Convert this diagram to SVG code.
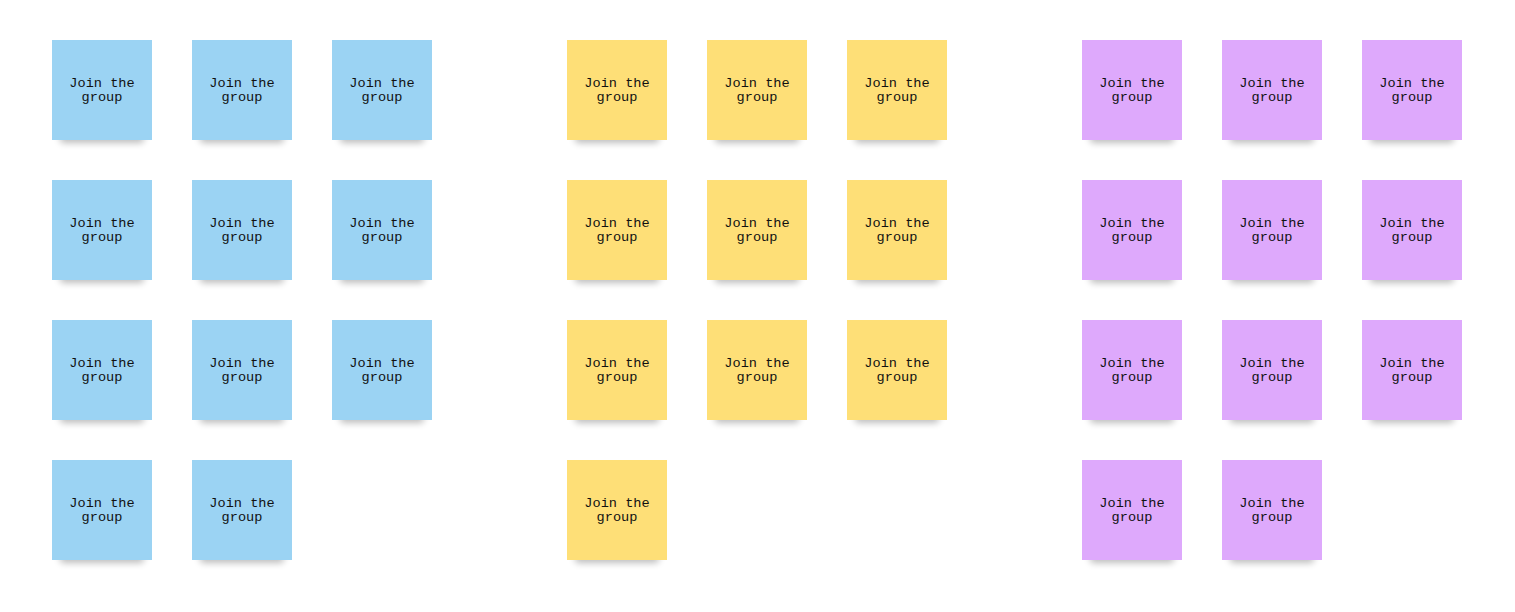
<svg xmlns="http://www.w3.org/2000/svg" xmlns:xlink="http://www.w3.org/1999/xlink" width="1515" height="612" viewBox="0 0 1515 612">
<style>
.t{font-family:"Liberation Mono","DejaVu Sans Mono",monospace;font-size:13.6px;fill:#111;text-anchor:middle}
.b{fill:#9bd3f3}.y{fill:#fedf77}.p{fill:#dea9fc}
.s{fill:#000;opacity:0.26;filter:url(#blur)}
</style>
<defs>
<filter id="blur" x="-30%" y="-100%" width="160%" height="300%"><feGaussianBlur stdDeviation="3.5"/></filter>
<g id="sh"><rect class="s" x="8" y="92" width="84" height="11" rx="4"/></g>
<g id="tx"><text class="t" x="50" y="47">Join the</text><text class="t" x="50" y="61">group</text></g>
</defs>
<rect width="1515" height="612" fill="#fff"/>
<g id="blue">
<g id="b1" transform="translate(52,40)"><use xlink:href="#sh"/><rect class="b" width="100" height="100"/><use xlink:href="#tx"/></g>
<g id="b2" transform="translate(192,40)"><use xlink:href="#sh"/><rect class="b" width="100" height="100"/><use xlink:href="#tx"/></g>
<g id="b3" transform="translate(332,40)"><use xlink:href="#sh"/><rect class="b" width="100" height="100"/><use xlink:href="#tx"/></g>
<g id="b4" transform="translate(52,180)"><use xlink:href="#sh"/><rect class="b" width="100" height="100"/><use xlink:href="#tx"/></g>
<g id="b5" transform="translate(192,180)"><use xlink:href="#sh"/><rect class="b" width="100" height="100"/><use xlink:href="#tx"/></g>
<g id="b6" transform="translate(332,180)"><use xlink:href="#sh"/><rect class="b" width="100" height="100"/><use xlink:href="#tx"/></g>
<g id="b7" transform="translate(52,320)"><use xlink:href="#sh"/><rect class="b" width="100" height="100"/><use xlink:href="#tx"/></g>
<g id="b8" transform="translate(192,320)"><use xlink:href="#sh"/><rect class="b" width="100" height="100"/><use xlink:href="#tx"/></g>
<g id="b9" transform="translate(332,320)"><use xlink:href="#sh"/><rect class="b" width="100" height="100"/><use xlink:href="#tx"/></g>
<g id="b10" transform="translate(52,460)"><use xlink:href="#sh"/><rect class="b" width="100" height="100"/><use xlink:href="#tx"/></g>
<g id="b11" transform="translate(192,460)"><use xlink:href="#sh"/><rect class="b" width="100" height="100"/><use xlink:href="#tx"/></g>
</g>
<g id="yellow">
<g id="y1" transform="translate(567,40)"><use xlink:href="#sh"/><rect class="y" width="100" height="100"/><use xlink:href="#tx"/></g>
<g id="y2" transform="translate(707,40)"><use xlink:href="#sh"/><rect class="y" width="100" height="100"/><use xlink:href="#tx"/></g>
<g id="y3" transform="translate(847,40)"><use xlink:href="#sh"/><rect class="y" width="100" height="100"/><use xlink:href="#tx"/></g>
<g id="y4" transform="translate(567,180)"><use xlink:href="#sh"/><rect class="y" width="100" height="100"/><use xlink:href="#tx"/></g>
<g id="y5" transform="translate(707,180)"><use xlink:href="#sh"/><rect class="y" width="100" height="100"/><use xlink:href="#tx"/></g>
<g id="y6" transform="translate(847,180)"><use xlink:href="#sh"/><rect class="y" width="100" height="100"/><use xlink:href="#tx"/></g>
<g id="y7" transform="translate(567,320)"><use xlink:href="#sh"/><rect class="y" width="100" height="100"/><use xlink:href="#tx"/></g>
<g id="y8" transform="translate(707,320)"><use xlink:href="#sh"/><rect class="y" width="100" height="100"/><use xlink:href="#tx"/></g>
<g id="y9" transform="translate(847,320)"><use xlink:href="#sh"/><rect class="y" width="100" height="100"/><use xlink:href="#tx"/></g>
<g id="y10" transform="translate(567,460)"><use xlink:href="#sh"/><rect class="y" width="100" height="100"/><use xlink:href="#tx"/></g>
</g>
<g id="purple">
<g id="p1" transform="translate(1082,40)"><use xlink:href="#sh"/><rect class="p" width="100" height="100"/><use xlink:href="#tx"/></g>
<g id="p2" transform="translate(1222,40)"><use xlink:href="#sh"/><rect class="p" width="100" height="100"/><use xlink:href="#tx"/></g>
<g id="p3" transform="translate(1362,40)"><use xlink:href="#sh"/><rect class="p" width="100" height="100"/><use xlink:href="#tx"/></g>
<g id="p4" transform="translate(1082,180)"><use xlink:href="#sh"/><rect class="p" width="100" height="100"/><use xlink:href="#tx"/></g>
<g id="p5" transform="translate(1222,180)"><use xlink:href="#sh"/><rect class="p" width="100" height="100"/><use xlink:href="#tx"/></g>
<g id="p6" transform="translate(1362,180)"><use xlink:href="#sh"/><rect class="p" width="100" height="100"/><use xlink:href="#tx"/></g>
<g id="p7" transform="translate(1082,320)"><use xlink:href="#sh"/><rect class="p" width="100" height="100"/><use xlink:href="#tx"/></g>
<g id="p8" transform="translate(1222,320)"><use xlink:href="#sh"/><rect class="p" width="100" height="100"/><use xlink:href="#tx"/></g>
<g id="p9" transform="translate(1362,320)"><use xlink:href="#sh"/><rect class="p" width="100" height="100"/><use xlink:href="#tx"/></g>
<g id="p10" transform="translate(1082,460)"><use xlink:href="#sh"/><rect class="p" width="100" height="100"/><use xlink:href="#tx"/></g>
<g id="p11" transform="translate(1222,460)"><use xlink:href="#sh"/><rect class="p" width="100" height="100"/><use xlink:href="#tx"/></g>
</g>
</svg>
